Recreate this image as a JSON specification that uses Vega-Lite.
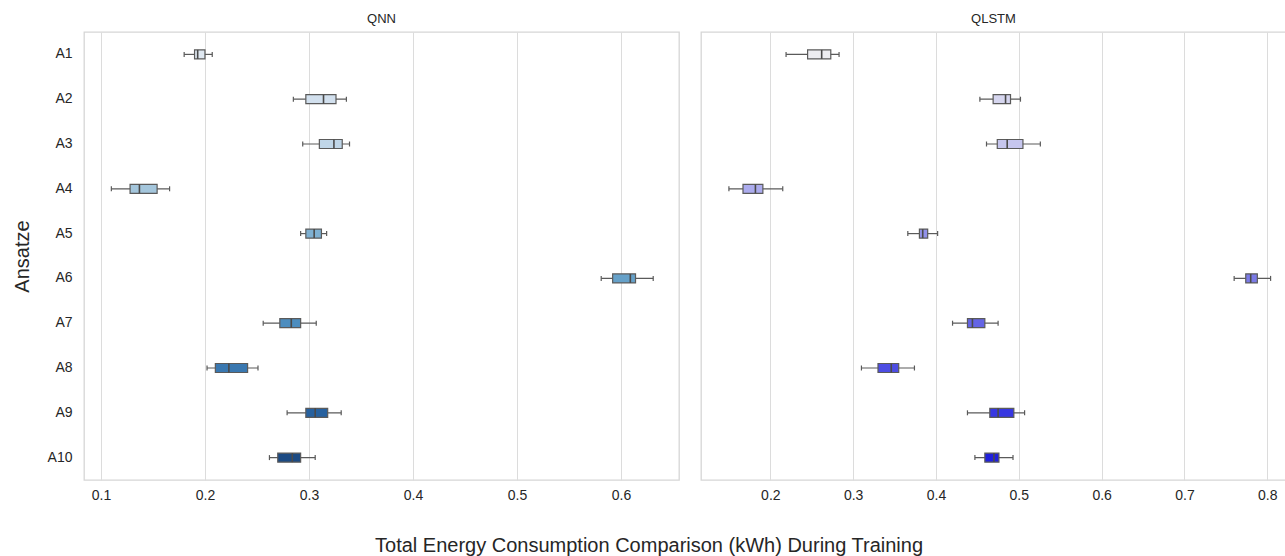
{
  "$schema": "https://vega.github.io/schema/vega-lite/v6.json",
  "background": "white",
  "padding": {"left": 11, "top": 12, "right": 0, "bottom": 0},
  "datasets": {
    "boxes": [
      {"model": "QNN", "ansatz": "A1", "lo": 0.180, "q1": 0.190, "med": 0.193, "q3": 0.200, "hi": 0.207},
      {"model": "QNN", "ansatz": "A2", "lo": 0.285, "q1": 0.297, "med": 0.314, "q3": 0.326, "hi": 0.336},
      {"model": "QNN", "ansatz": "A3", "lo": 0.294, "q1": 0.310, "med": 0.324, "q3": 0.332, "hi": 0.339},
      {"model": "QNN", "ansatz": "A4", "lo": 0.110, "q1": 0.128, "med": 0.137, "q3": 0.154, "hi": 0.166},
      {"model": "QNN", "ansatz": "A5", "lo": 0.292, "q1": 0.297, "med": 0.305, "q3": 0.312, "hi": 0.317},
      {"model": "QNN", "ansatz": "A6", "lo": 0.581, "q1": 0.592, "med": 0.609, "q3": 0.614, "hi": 0.631},
      {"model": "QNN", "ansatz": "A7", "lo": 0.256, "q1": 0.272, "med": 0.283, "q3": 0.292, "hi": 0.307},
      {"model": "QNN", "ansatz": "A8", "lo": 0.202, "q1": 0.210, "med": 0.223, "q3": 0.241, "hi": 0.251},
      {"model": "QNN", "ansatz": "A9", "lo": 0.279, "q1": 0.297, "med": 0.306, "q3": 0.318, "hi": 0.331},
      {"model": "QNN", "ansatz": "A10", "lo": 0.262, "q1": 0.270, "med": 0.284, "q3": 0.292, "hi": 0.306},
      {"model": "QLSTM", "ansatz": "A1", "lo": 0.219, "q1": 0.245, "med": 0.262, "q3": 0.273, "hi": 0.283},
      {"model": "QLSTM", "ansatz": "A2", "lo": 0.453, "q1": 0.469, "med": 0.484, "q3": 0.490, "hi": 0.502},
      {"model": "QLSTM", "ansatz": "A3", "lo": 0.461, "q1": 0.474, "med": 0.486, "q3": 0.505, "hi": 0.526},
      {"model": "QLSTM", "ansatz": "A4", "lo": 0.150, "q1": 0.167, "med": 0.182, "q3": 0.191, "hi": 0.215},
      {"model": "QLSTM", "ansatz": "A5", "lo": 0.366, "q1": 0.380, "med": 0.384, "q3": 0.390, "hi": 0.402},
      {"model": "QLSTM", "ansatz": "A6", "lo": 0.760, "q1": 0.774, "med": 0.780, "q3": 0.788, "hi": 0.804},
      {"model": "QLSTM", "ansatz": "A7", "lo": 0.420, "q1": 0.438, "med": 0.444, "q3": 0.459, "hi": 0.475},
      {"model": "QLSTM", "ansatz": "A8", "lo": 0.310, "q1": 0.330, "med": 0.346, "q3": 0.355, "hi": 0.374},
      {"model": "QLSTM", "ansatz": "A9", "lo": 0.438, "q1": 0.465, "med": 0.475, "q3": 0.494, "hi": 0.507},
      {"model": "QLSTM", "ansatz": "A10", "lo": 0.447, "q1": 0.459, "med": 0.470, "q3": 0.476, "hi": 0.493}
    ]
  },
  "title": {
    "text": "Total Energy Consumption Comparison (kWh) During Training",
    "orient": "bottom",
    "anchor": "middle",
    "frame": "bounds",
    "fontSize": 20,
    "fontWeight": "normal",
    "color": "#262626",
    "offset": 33
  },
  "hconcat": [
    {
      "title": {"text": "QNN", "fontSize": 13, "fontWeight": "normal", "color": "#262626", "offset": 6},
      "width": 595,
      "height": 448,
      "data": {"name": "boxes"},
      "transform": [{"filter": "datum.model === 'QNN'"}],
      "encoding": {
        "y": {
          "field": "ansatz",
          "type": "nominal",
          "sort": ["A1", "A2", "A3", "A4", "A5", "A6", "A7", "A8", "A9", "A10"],
          "scale": {"paddingInner": 0, "paddingOuter": 0},
          "axis": {"title": "Ansatze", "titleFontSize": 20, "titleFontWeight": "normal", "titlePadding": 15, "labelPadding": 12}
        }
      },
      "layer": [
        {
          "mark": {"type": "rule", "color": "#5a5a5a", "strokeWidth": 1.2},
          "encoding": {
            "x": {
              "field": "lo",
              "type": "quantitative",
              "scale": {"domain": [0.0837, 0.6558], "nice": false, "zero": false},
              "axis": {"title": null, "values": [0.1, 0.2, 0.3, 0.4, 0.5, 0.6], "format": ".1f"}
            },
            "x2": {"field": "hi"}
          }
        },
        {
          "mark": {"type": "tick", "color": "#5a5a5a", "size": 5, "thickness": 1.2, "opacity": 1},
          "encoding": {"x": {"field": "lo", "type": "quantitative"}}
        },
        {
          "mark": {"type": "tick", "color": "#5a5a5a", "size": 5, "thickness": 1.2, "opacity": 1},
          "encoding": {"x": {"field": "hi", "type": "quantitative"}}
        },
        {
          "mark": {"type": "bar", "height": 9, "stroke": "#5a5a5a", "strokeWidth": 1.2, "opacity": 1},
          "encoding": {
            "x": {"field": "q1", "type": "quantitative"},
            "x2": {"field": "q3"},
            "fill": {
              "field": "ansatz",
              "type": "nominal",
              "legend": null,
              "scale": {
                "domain": ["A1", "A2", "A3", "A4", "A5", "A6", "A7", "A8", "A9", "A10"],
                "range": ["#dfe8f1", "#d2e0ee", "#c0d6e8", "#a4c6dc", "#7eb0d2", "#66a1c9", "#4c8dbf", "#3a78b0", "#27619f", "#1b4a83"]
              }
            }
          }
        },
        {
          "mark": {"type": "tick", "color": "#4a4a4a", "size": 9, "thickness": 1.6, "opacity": 1},
          "encoding": {"x": {"field": "med", "type": "quantitative"}}
        }
      ]
    },
    {
      "title": {"text": "QLSTM", "fontSize": 13, "fontWeight": "normal", "color": "#262626", "offset": 6},
      "width": 585,
      "height": 448,
      "data": {"name": "boxes"},
      "transform": [{"filter": "datum.model === 'QLSTM'"}],
      "encoding": {
        "y": {
          "field": "ansatz",
          "type": "nominal",
          "sort": ["A1", "A2", "A3", "A4", "A5", "A6", "A7", "A8", "A9", "A10"],
          "scale": {"paddingInner": 0, "paddingOuter": 0},
          "axis": null
        }
      },
      "layer": [
        {
          "mark": {"type": "rule", "color": "#5a5a5a", "strokeWidth": 1.2},
          "encoding": {
            "x": {
              "field": "lo",
              "type": "quantitative",
              "scale": {"domain": [0.1163, 0.8226], "nice": false, "zero": false},
              "axis": {"title": null, "values": [0.2, 0.3, 0.4, 0.5, 0.6, 0.7, 0.8], "format": ".1f"}
            },
            "x2": {"field": "hi"}
          }
        },
        {
          "mark": {"type": "tick", "color": "#5a5a5a", "size": 5, "thickness": 1.2, "opacity": 1},
          "encoding": {"x": {"field": "lo", "type": "quantitative"}}
        },
        {
          "mark": {"type": "tick", "color": "#5a5a5a", "size": 5, "thickness": 1.2, "opacity": 1},
          "encoding": {"x": {"field": "hi", "type": "quantitative"}}
        },
        {
          "mark": {"type": "bar", "height": 9, "stroke": "#5a5a5a", "strokeWidth": 1.2, "opacity": 1},
          "encoding": {
            "x": {"field": "q1", "type": "quantitative"},
            "x2": {"field": "q3"},
            "fill": {
              "field": "ansatz",
              "type": "nominal",
              "legend": null,
              "scale": {
                "domain": ["A1", "A2", "A3", "A4", "A5", "A6", "A7", "A8", "A9", "A10"],
                "range": ["#ededf1", "#d6d6ef", "#c6c6ee", "#acacee", "#9292e9", "#7b7be7", "#6464e5", "#4d4de3", "#3737e1", "#2020dc"]
              }
            }
          }
        },
        {
          "mark": {"type": "tick", "color": "#4a4a4a", "size": 9, "thickness": 1.6, "opacity": 1},
          "encoding": {"x": {"field": "med", "type": "quantitative"}}
        }
      ]
    }
  ],
  "spacing": 20,
  "resolve": {"scale": {"x": "independent", "y": "independent", "fill": "independent"}},
  "config": {
    "font": "Liberation Sans",
    "view": {"stroke": "#d6d6d6", "strokeWidth": 1.3},
    "axis": {
      "ticks": false,
      "domain": false,
      "labelFontSize": 14,
      "labelColor": "#262626",
      "titleColor": "#262626",
      "labelPadding": 8,
      "gridColor": "#dcdcdc",
      "gridWidth": 1
    },
    "axisY": {"grid": false},
    "axisX": {"grid": true}
  }
}
